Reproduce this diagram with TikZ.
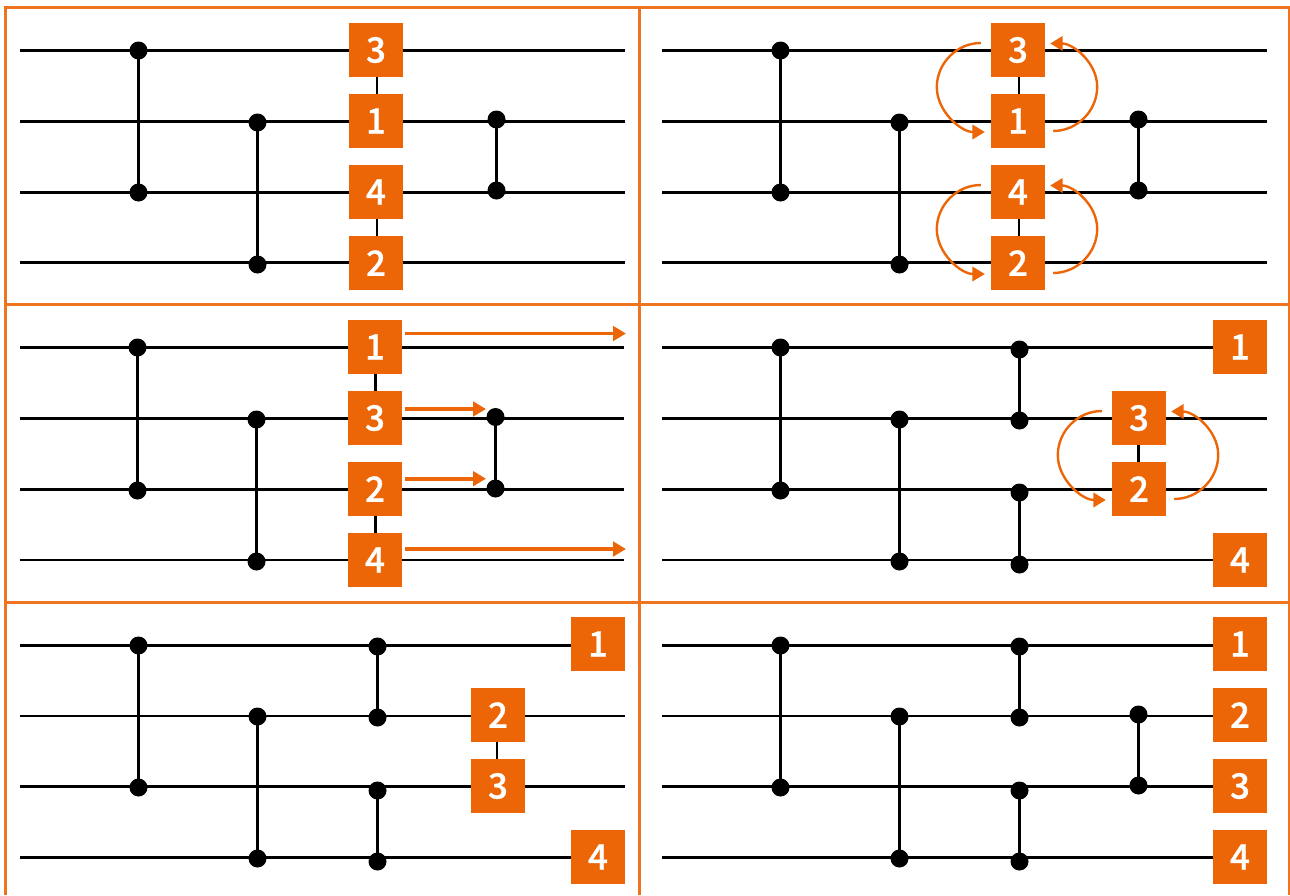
\documentclass[tikz,border=0pt]{standalone}
\usepackage{fontspec}
\newfontfamily\numfont{Noto Sans CJK SC Medium}[FakeBold=0.7]
\usetikzlibrary{arrows.meta,backgrounds}
\definecolor{boxor}{HTML}{EC6608}
\definecolor{frameor}{HTML}{EE7420}
\tikzset{
  frameline/.style={draw=frameor,line width=3pt},
  wire/.style={draw=black,line width=2.8pt},
  dotnode/.style={circle,fill=black,inner sep=0pt,minimum size=18pt},
  qbox/.style={rectangle,fill=boxor,text=white,inner sep=0pt,minimum size=54pt,font=\numfont\fontsize{35}{35}\selectfont},
  swaparrow/.style={draw=boxor,line width=2.4pt,-{Triangle[length=12.5pt,width=14.5pt]}},
  movearrow/.style={draw=boxor,line width=3.6pt,-{Triangle[length=13pt,width=14.5pt]}},
}
% wires of one panel: prefix, left x, right x, top y
\newcommand{\qwires}[5]{%
  \foreach \i/\yy in {1/#4,2/#4+70.7,3/#4+141.4,4/#4+212.1}{%
    \coordinate (#1w\i l) at (#2,\yy);
    \coordinate (#1w\i r) at (#3,\yy);
    \begin{scope}[on background layer]
      \draw[wire] (#1w\i l) -- (#1w\i r);
    \end{scope}
  }%
}
% vertical gate: name, x, y top, y bottom
\newcommand{\qgate}[4]{%
  \node[dotnode] (#1t) at ({#2+0.5},{#3+0.5}) {};
  \node[dotnode] (#1b) at ({#2+0.5},{#4+0.5}) {};
  \draw[wire] (#1t.center) -- (#1b.center);
}
% box: name, x, y, text
\newcommand{\qbit}[4]{\node[qbox] (#1) at (#2,#3) {#4};}
% link between two stacked boxes: top, bottom, x offset
\newcommand{\qlink}[3]{%
  \begin{scope}[on background layer]
    \draw[wire] ([xshift=#3pt]#1.south) -- ([xshift=#3pt]#2.north);
  \end{scope}
}
% pair of curved arrows around two stacked boxes
\newcommand{\qswap}[2]{%
  \draw[swaparrow] ([shift={(-10,-7)}]#1.west) .. controls +(-24,0) and ([shift={(-54,-14)}]#1.south west) .. ([shift={(-54,10)}]#1.south west)
     .. controls ([shift={(-54,34)}]#1.south west) and ([shift={(-30,11)}]#2.west) .. ([shift={(-6,11)}]#2.west);
  \draw[swaparrow] ([shift={(8,10)}]#2.east) .. controls +(24,0) and ([shift={(52,17)}]#2.north east) .. ([shift={(52,-7)}]#2.north east)
     .. controls ([shift={(52,-31)}]#2.north east) and ([shift={(28,-6.5)}]#1.east) .. ([shift={(5,-6.5)}]#1.east);
}
\begin{document}
\begin{tikzpicture}[x=1pt,y=-1pt]
\useasboundingbox (0,0) rectangle (1290,895);
% frame
\coordinate (fa) at (5.5,7.5); \coordinate (fb) at (1289,7.5);
\coordinate (fc) at (5.5,895); \coordinate (fd) at (1289,895);
\coordinate (fe) at (639,7.5); \coordinate (ff) at (639,895);
\coordinate (fg) at (5.5,304.5); \coordinate (fh) at (1289,304.5);
\coordinate (fi) at (5.5,602); \coordinate (fj) at (1289,602);
\draw[frameline] (fc) -- (fa) -- (fb) -- (fd);
\draw[frameline] (fe) -- (ff);
\draw[frameline] (fg) -- (fh);
\draw[frameline] (fi) -- (fj);

% panel A
\qwires{a}{20}{625}{50.7}{}
\qgate{aA}{138}{50}{192}
\qgate{aB}{257}{122}{264}
\qgate{aC}{496}{119}{190}
\qbit{a3}{376}{50}{3}
\qbit{a1}{376}{121}{1}
\qbit{a4}{376}{192}{4}
\qbit{a2}{376}{263}{2}
\qlink{a3}{a1}{1}
\qlink{a4}{a2}{1}

% panel B
\qwires{b}{662}{1267}{50.7}{}
\qgate{bA}{780}{50}{192}
\qgate{bB}{899}{122}{264}
\qgate{bC}{1138}{119}{190}
\qbit{b3}{1018}{50}{3}
\qbit{b1}{1018}{121}{1}
\qbit{b4}{1018}{192}{4}
\qbit{b2}{1018}{263}{2}
\qlink{b3}{b1}{1}
\qlink{b4}{b2}{1}
\qswap{b3}{b1}
\qswap{b4}{b2}

% panel C
\qwires{c}{19.5}{624}{347.8}{}
\qgate{cA}{137}{347}{490}
\qgate{cB}{256}{419}{561}
\qgate{cC}{495}{416.5}{488}
\qbit{c1}{375}{347}{1}
\qbit{c3}{375}{418}{3}
\qbit{c2}{375}{489}{2}
\qbit{c4}{375}{560}{4}
\qlink{c1}{c3}{0.5}
\qlink{c2}{c4}{0.5}
\coordinate (ce1) at (626,333.5);
\coordinate (ce3) at (486,409);
\coordinate (ce2) at (486,478.7);
\coordinate (ce4) at (626,549);
\draw[movearrow] ([shift={(3,-13.5)}]c1.east) -- (ce1);
\draw[movearrow] ([shift={(3,-9)}]c3.east) -- (ce3);
\draw[movearrow] ([shift={(3,-10.3)}]c2.east) -- (ce2);
\draw[movearrow] ([shift={(3,-11)}]c4.east) -- (ce4);

% panel D
\qwires{d}{662}{1267}{347.8}{}
\qgate{dA}{780}{347}{490}
\qgate{dB}{899}{419}{561}
\qgate{dC}{1019}{349}{420}
\qgate{dD}{1019}{492}{564}
\qbit{d1}{1240}{347}{1}
\qbit{d3}{1139}{418}{3}
\qbit{d2}{1139}{489}{2}
\qbit{d4}{1240}{560}{4}
\qlink{d3}{d2}{-0.5}
\qswap{d3}{d2}

% panel E
\qwires{e}{20}{625}{645.3}{}
\qgate{eA}{138}{645}{787}
\qgate{eB}{257}{716}{858}
\qgate{eC}{377}{646}{717}
\qgate{eD}{377}{790}{861}
\qbit{e1}{598}{644}{1}
\qbit{e2}{498}{715}{2}
\qbit{e3}{498}{786}{3}
\qbit{e4}{598}{857}{4}
\qlink{e2}{e3}{-1}

% panel F
\qwires{f}{662}{1267}{645.3}{}
\qgate{fA}{780}{645}{787}
\qgate{fB}{899}{716}{858}
\qgate{fC}{1019}{646}{717}
\qgate{fD}{1019}{790}{861}
\qgate{fE}{1138}{714}{785}
\qbit{f1}{1240}{644}{1}
\qbit{f2}{1240}{715}{2}
\qbit{f3}{1240}{786}{3}
\qbit{f4}{1240}{857}{4}
\end{tikzpicture}
\end{document}
